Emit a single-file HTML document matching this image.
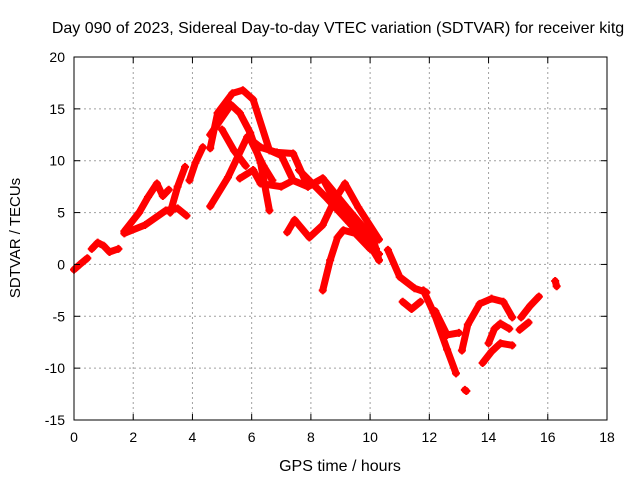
<!DOCTYPE html>
<html><head><meta charset="utf-8"><style>
body{margin:0;background:#fff;}
svg text{font-family:"Liberation Sans",sans-serif;font-size:14px;fill:#000;}
</style></head><body>
<svg id="chart" width="640" height="480" xmlns="http://www.w3.org/2000/svg">
<rect width="640" height="480" fill="#fff"/>
<g id="grid"></g>
<g id="series"></g>
<g id="axes"></g>
<text x="338" y="33" text-anchor="middle" style="font-size:16px">Day 090 of 2023, Sidereal Day-to-day VTEC variation (SDTVAR) for receiver kitg</text>
<text x="340" y="471" text-anchor="middle" style="font-size:16px">GPS time / hours</text>
<text x="20" y="238" text-anchor="middle" transform="rotate(-90 20 238)" style="font-size:15px">SDTVAR / TECUs</text>
</svg>
<script>
const xTicks=[0,2,4,6,8,10,12,14,16,18];
const yTicks=[-15,-10,-5,0,5,10,15,20];
const track1=[[0,-0.5],[0.2,0],[0.45,0.6]];
const track2=[[0.6,1.5],[0.8,2.1],[1.0,1.8],[1.2,1.2],[1.5,1.5]];
const track3=[[1.7,3.2],[2.2,5],[2.5,6.5],[2.8,7.8],[3.0,6.6],[3.2,7.2]];
const track4=[[1.7,3],[2.4,3.8],[3.1,5.2],[3.5,5.4],[3.8,4.7]];
const track5=[[3.25,5],[3.5,7.5],[3.75,9.4]];
const track6=[[3.9,8.1],[4.1,9.8],[4.35,11.3]];
const track7=[[4.6,11.2],[4.85,14.6],[5.35,16.5],[5.7,16.8],[6.05,15.9],[6.6,11],[7.0,10.5],[7.4,8.1],[7.9,7.5]];
const track8=[[4.6,5.6],[5.2,8.4],[5.85,12.3],[6.3,11.3],[6.85,10.8],[7.4,10.7],[7.9,7.5],[8.4,8.3],[9.2,5.5],[10.1,2.5],[10.3,0.4]];
const track9=[[4.6,12.5],[5.3,15.4],[5.6,14.6],[5.95,12.7],[6.3,9.8],[6.6,5.2]];
const track10=[[5.0,13],[5.4,11],[5.8,9.5]];
const track11=[[6.0,11.8],[6.4,9.5],[6.7,8.1]];
const track12=[[5.6,8.3],[6.05,9.1],[6.3,7.8],[7.0,7.5],[7.4,8.1],[7.9,7.5],[8.4,8.3],[8.9,5.6],[9.6,3.2],[10.2,1.5]];
const track13=[[7.2,3.1],[7.45,4.3],[7.95,2.6],[8.4,3.8],[8.8,6.2],[9.15,7.8],[9.6,5.5],[10.3,2.4]];
const track14=[[8.4,-2.5],[8.65,0.4],[8.9,2.6],[9.1,3.3],[9.5,3],[10,1.5],[10.3,1]];
const track15=[[7.6,9.1],[8.5,6.5],[9.3,4],[10.0,1.8],[10.3,0.4]];
const track16=[[10.6,1.4],[11.0,-1.2],[11.5,-2.3],[11.9,-2.7]];
const track17=[[11.1,-3.6],[11.4,-4.3],[11.7,-3.6]];
const track18=[[11.8,-2.5],[12.2,-5],[12.6,-8.2],[12.9,-10.5]];
const track19=[[12.2,-4.5],[12.6,-6.8],[13.0,-6.6]];
const track20=[[13.2,-12.1],[13.25,-12.2]];
const track21=[[13.1,-8.3],[13.3,-5.8],[13.7,-3.8],[14.1,-3.3],[14.5,-3.6],[14.8,-5.1]];
const track22=[[14.0,-7.6],[14.2,-6.2],[14.4,-5.7],[14.7,-6.2]];
const track23=[[13.8,-9.5],[14.1,-8.4],[14.4,-7.6],[14.8,-7.8]];
const track24=[[15.1,-5.1],[15.4,-4],[15.7,-3.1]];
const track25=[[15.05,-6.3],[15.35,-5.6]];
const track26=[[16.25,-1.6],[16.3,-2.1]];
const tracks=[track1,track2,track3,track4,track5,track6,track7,track8,track9,track10,track11,track12,track13,track14,track15,track16,track17,track18,track19,track20,track21,track22,track23,track24,track25,track26];

const L=74,R=607,T=57,B=420;
const X=t=>L+(t-0)/(18-0)*(R-L);
const Y=v=>B-(v+15)/35*(B-T);
const NS="http://www.w3.org/2000/svg";
function mk(tag,attrs,parent){const e=document.createElementNS(NS,tag);for(const k in attrs)e.setAttribute(k,attrs[k]);parent.appendChild(e);return e;}
const grid=document.getElementById('grid'),axes=document.getElementById('axes'),ser=document.getElementById('series');
xTicks.forEach(t=>{
  if(t>0&&t<18){const g=mk('line',{x1:X(t),x2:X(t),y1:T,y2:B,stroke:'#a0a0a0','stroke-dasharray':'2,3'},grid);
  
  }
  const k=mk('line',{x1:X(t),x2:X(t),y1:B,y2:B-6,stroke:'#000'},axes);
  
  
  const k2=mk('line',{x1:X(t),x2:X(t),y1:T,y2:T+6,stroke:'#000'},axes);
  
  
  const tx=mk('text',{x:X(t),y:B+22,'text-anchor':'middle'},axes);tx.textContent=t;
  
  
});
yTicks.forEach(v=>{
  if(v>-15&&v<20){const g=mk('line',{x1:L,x2:R,y1:Y(v),y2:Y(v),stroke:'#a0a0a0','stroke-dasharray':'2,3'},grid);
  
  }
  const k=mk('line',{x1:L,x2:L+6,y1:Y(v),y2:Y(v),stroke:'#000'},axes);
  
  
  const k2=mk('line',{x1:R,x2:R-6,y1:Y(v),y2:Y(v),stroke:'#000'},axes);
  
  
  const tx=mk('text',{x:L-9,y:Y(v)+5,'text-anchor':'end'},axes);tx.textContent=v;
  
  
});
const frame=mk('rect',{x:L,y:T,width:R-L,height:B-T,fill:'none',stroke:'#000'},axes);


tracks.forEach(tr=>{
  const pl=mk('polyline',{points:tr.map(p=>X(p[0])+','+Y(p[1])).join(' '),fill:'none',stroke:'#f00','stroke-width':7,'stroke-linejoin':'round','stroke-linecap':'round'},ser);
  
  
  tr.forEach(p=>{
    const m=mk('path',{d:`M${X(p[0])-4},${Y(p[1])}h8M${X(p[0])},${Y(p[1])-4}v8`,stroke:'#f00','stroke-width':2},ser);
    
    
  });
});
</script>
</body></html>
